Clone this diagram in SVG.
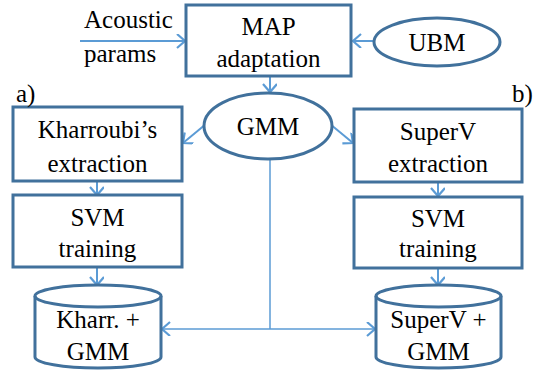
<svg xmlns="http://www.w3.org/2000/svg" width="533" height="370" viewBox="0 0 533 370">
<defs>
<marker id="ah" markerUnits="userSpaceOnUse" markerWidth="14" markerHeight="16" refX="10" refY="7" orient="auto" viewBox="0 0 14 16">
<path d="M2,0 L10,7 L2,14" fill="none" stroke="#5B9BD5" stroke-width="2.2"/>
</marker>
</defs>
<rect width="533" height="370" fill="#fff"/>
<g id="connectors" fill="none" stroke="#5B9BD5" stroke-width="2">
<line x1="80" y1="41" x2="185" y2="41" marker-end="url(#ah)"/>
<line x1="374" y1="41" x2="353" y2="41" marker-end="url(#ah)"/>
<line x1="270" y1="77" x2="270" y2="92" marker-end="url(#ah)"/>
<line x1="206" y1="124" x2="183" y2="143" marker-end="url(#ah)"/>
<line x1="330" y1="124" x2="353" y2="143" marker-end="url(#ah)"/>
<line x1="97" y1="182" x2="97" y2="195" marker-end="url(#ah)"/>
<line x1="438" y1="183" x2="438" y2="196" marker-end="url(#ah)"/>
<line x1="97" y1="268" x2="97" y2="285" marker-end="url(#ah)"/>
<line x1="438" y1="269" x2="438" y2="285" marker-end="url(#ah)"/>
<line x1="270" y1="159" x2="270" y2="329" stroke-width="1.5"/>
<line x1="270" y1="329" x2="162" y2="329" stroke-width="1.5" marker-end="url(#ah)"/>
<line x1="270" y1="329" x2="375" y2="329" stroke-width="1.5" marker-end="url(#ah)"/>
</g>
<g id="shapes" fill="#fff" stroke="#41719C" stroke-width="3">
<rect id="map-box" x="186" y="5" width="165" height="71"/>
<ellipse id="ubm-shape" cx="437" cy="42" rx="63" ry="24"/>
<ellipse id="gmm-shape" cx="268" cy="126" rx="64" ry="33"/>
<rect id="kharroubi-box" x="13" y="107" width="169" height="74"/>
<rect id="superv-box" x="354" y="109" width="168" height="73"/>
<rect id="svm-left-box" x="13" y="195" width="169" height="72"/>
<rect id="svm-right-box" x="354" y="197" width="168" height="71"/>
<path id="db-left-shape" d="M35,296 A63,11 0 0 1 161,296 L161,357 A63,11 0 0 1 35,357 Z"/>
<path d="M35,296 A63,11 0 0 0 161,296" fill="none"/>
<path id="db-right-shape" d="M376,296 A62.5,11 0 0 1 501,296 L501,357 A62.5,11 0 0 1 376,357 Z"/>
<path d="M376,296 A62.5,11 0 0 0 501,296" fill="none"/>
</g>
<g id="labels" font-family="Times New Roman, Liberation Serif, serif" font-size="25" fill="#000">
<g id="acoustic">
<text x="84" y="28">Acoustic</text>
<text x="84" y="62">params</text>
</g>
<g id="map" text-anchor="middle">
<text x="268.5" y="35">MAP</text>
<text x="268.5" y="67">adaptation</text>
</g>
<g id="ubm" text-anchor="middle"><text x="437" y="51">UBM</text></g>
<g id="gmm" text-anchor="middle"><text x="268" y="135">GMM</text></g>
<g id="label-a"><text x="16" y="102">a)</text></g>
<g id="label-b"><text x="512" y="102">b)</text></g>
<g id="kharroubi" text-anchor="middle">
<text x="97.5" y="138">Kharroubi&#8217;s</text>
<text x="97.5" y="172">extraction</text>
</g>
<g id="superv" text-anchor="middle">
<text x="438" y="140">SuperV</text>
<text x="438" y="172">extraction</text>
</g>
<g id="svm-left" text-anchor="middle">
<text x="97.5" y="226">SVM</text>
<text x="97.5" y="257">training</text>
</g>
<g id="svm-right" text-anchor="middle">
<text x="438" y="227">SVM</text>
<text x="438" y="257">training</text>
</g>
<g id="db-left" text-anchor="middle">
<text x="98" y="328">Kharr. +</text>
<text x="98" y="360">GMM</text>
</g>
<g id="db-right" text-anchor="middle">
<text x="438.5" y="328">SuperV +</text>
<text x="438.5" y="360">GMM</text>
</g>
</g>
</svg>
